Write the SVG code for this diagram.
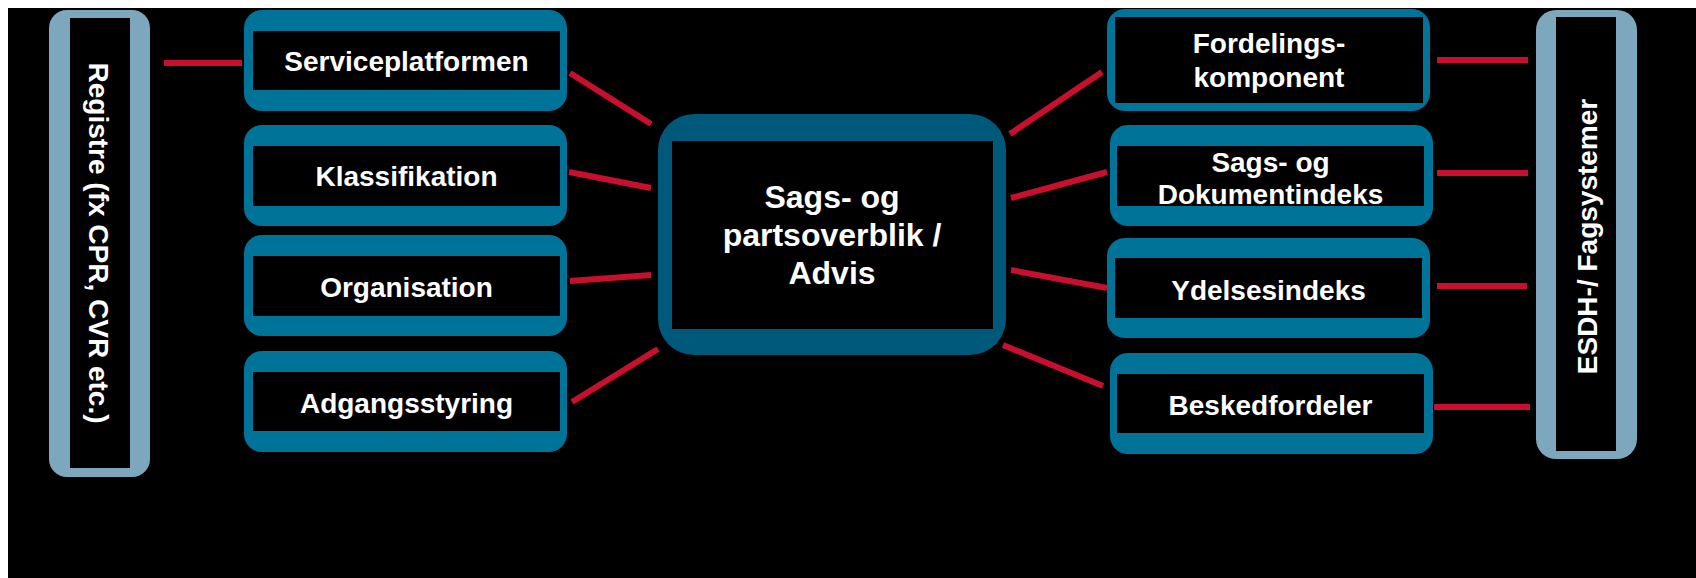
<svg xmlns="http://www.w3.org/2000/svg" width="1696" height="578" viewBox="0 0 1696 578">
<style>
  .box { fill: #007398; }
  .core { fill: #00587A; }
  .side { fill: #7CA7BD; }
  .inner { fill: #000000; }
  .lbl { font-family: "Liberation Sans", Arial, sans-serif; font-weight: bold; font-size: 28px; fill: #ffffff; text-anchor: middle; }
  .big { font-size: 32px; }
  .conn line { stroke: #C8102E; stroke-width: 6; }
</style>
<rect x="0" y="0" width="1696" height="578" fill="#ffffff"/>
<rect x="8" y="8" width="1688" height="570" fill="#000000"/>

<g id="registre">
  <rect class="side" x="49" y="10" width="101" height="467" rx="18"/>
  <rect class="inner" x="70" y="18" width="60" height="450"/>
  <text class="lbl" transform="translate(89,243) rotate(90)">Registre (fx CPR, CVR etc.)</text>
</g>

<g id="serviceplatformen">
  <rect class="box" x="244" y="10" width="323" height="101" rx="18"/>
  <rect class="inner" x="253" y="31" width="307" height="59"/>
  <text class="lbl" x="406.5" y="71">Serviceplatformen</text>
</g>
<g id="klassifikation">
  <rect class="box" x="244" y="125" width="323" height="101" rx="18"/>
  <rect class="inner" x="253" y="146" width="307" height="60"/>
  <text class="lbl" x="406.5" y="186">Klassifikation</text>
</g>
<g id="organisation">
  <rect class="box" x="244" y="235" width="323" height="101" rx="18"/>
  <rect class="inner" x="253" y="256" width="307" height="60"/>
  <text class="lbl" x="406.5" y="297">Organisation</text>
</g>
<g id="adgangsstyring">
  <rect class="box" x="244" y="351" width="323" height="101" rx="18"/>
  <rect class="inner" x="253" y="372" width="307" height="59"/>
  <text class="lbl" x="406.5" y="413">Adgangsstyring</text>
</g>

<g id="sagsoverblik">
  <rect class="core" x="658" y="114" width="348" height="241" rx="36"/>
  <rect class="inner" x="672" y="141" width="321" height="188"/>
  <text class="lbl big" x="832" y="208">Sags- og</text>
  <text class="lbl big" x="832" y="246">partsoverblik /</text>
  <text class="lbl big" x="832" y="284">Advis</text>
</g>

<g id="fordelingskomponent">
  <rect class="box" x="1107" y="9" width="323" height="102" rx="18"/>
  <rect class="inner" x="1115" y="17" width="308" height="86"/>
  <text class="lbl" x="1269" y="53">Fordelings-</text>
  <text class="lbl" x="1269" y="87">komponent</text>
</g>
<g id="sagsdokumentindeks">
  <rect class="box" x="1110" y="125" width="323" height="101" rx="18"/>
  <rect class="inner" x="1117" y="146" width="307" height="60"/>
  <text class="lbl" x="1270.5" y="172">Sags- og</text>
  <text class="lbl" x="1270.5" y="204">Dokumentindeks</text>
</g>
<g id="ydelsesindeks">
  <rect class="box" x="1107" y="238" width="323" height="100" rx="18"/>
  <rect class="inner" x="1115" y="258" width="307" height="60"/>
  <text class="lbl" x="1268.5" y="300">Ydelsesindeks</text>
</g>
<g id="beskedfordeler">
  <rect class="box" x="1110" y="353" width="323" height="101" rx="18"/>
  <rect class="inner" x="1117" y="374" width="307" height="59"/>
  <text class="lbl" x="1270.5" y="415">Beskedfordeler</text>
</g>

<g id="esdh">
  <rect class="side" x="1536" y="10" width="101" height="449" rx="20"/>
  <rect class="inner" x="1556" y="17" width="60" height="434"/>
  <text class="lbl" transform="translate(1597,236.5) rotate(-90)">ESDH-/ Fagsystemer</text>
</g>

<g id="connectors" class="conn">
  <line x1="164" y1="63" x2="242" y2="63"/>
  <line x1="570" y1="73" x2="651" y2="124"/>
  <line x1="569" y1="172" x2="651" y2="188"/>
  <line x1="570" y1="281" x2="651" y2="275"/>
  <line x1="572" y1="402" x2="658" y2="349"/>
  <line x1="1010" y1="134" x2="1102" y2="72"/>
  <line x1="1011" y1="198" x2="1107" y2="172"/>
  <line x1="1011" y1="270" x2="1107" y2="288"/>
  <line x1="1003" y1="345" x2="1103" y2="386"/>
  <line x1="1437" y1="60" x2="1528" y2="60"/>
  <line x1="1437" y1="173" x2="1528" y2="173"/>
  <line x1="1437" y1="286" x2="1527" y2="286"/>
  <line x1="1434" y1="407" x2="1530" y2="407"/>
</g>
</svg>
